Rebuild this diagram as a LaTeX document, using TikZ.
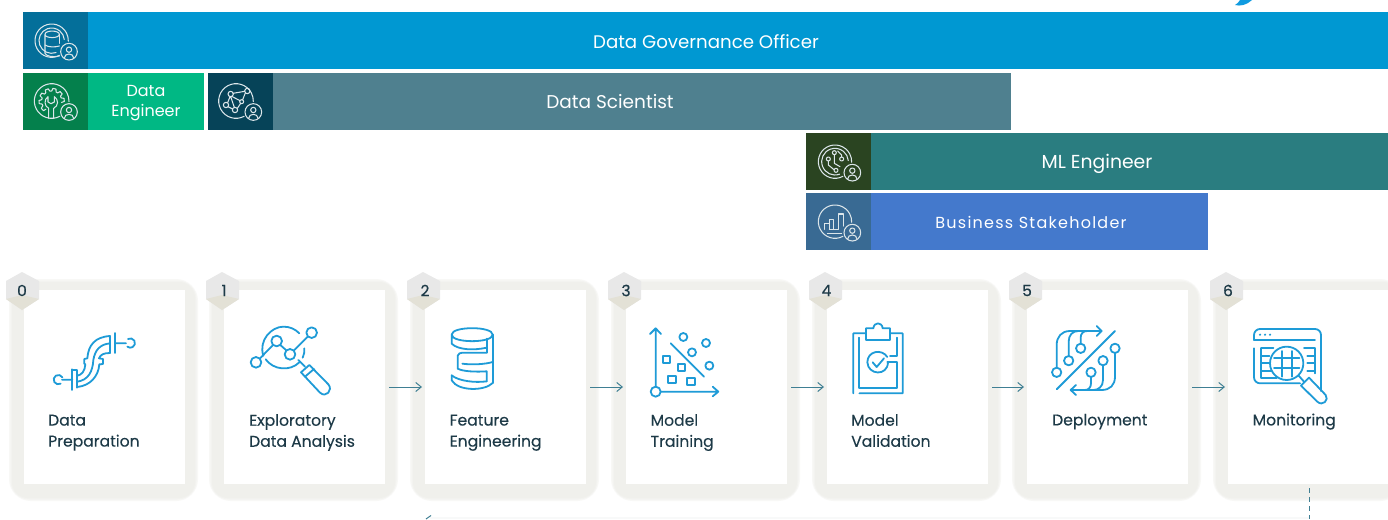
\documentclass[tikz,border=0pt]{standalone}
\usepackage{fontspec}
\setmainfont{Poppins}
\newfontfamily\medfont[FakeBold=0.25]{Poppins}
\newfontfamily\numfont[FakeBold=0.6]{Poppins}
\newfontfamily\spacedfont[LetterSpace=7.8]{Poppins}
\usetikzlibrary{arrows.meta}
\definecolor{govbar}{HTML}{0098D2}\definecolor{govicon}{HTML}{046F9A}
\definecolor{engbar}{HTML}{00B884}\definecolor{engicon}{HTML}{04804C}
\definecolor{sctbar}{HTML}{4F808F}\definecolor{scticon}{HTML}{064358}
\definecolor{mlbar}{HTML}{2A7D80}\definecolor{mlicon}{HTML}{2A4421}
\definecolor{busbar}{HTML}{4479CC}\definecolor{busicon}{HTML}{396A93}
\definecolor{halo}{HTML}{F0F0EC}\definecolor{halomid}{HTML}{F3F3F0}\definecolor{haloout}{HTML}{F8F8F6}
\definecolor{hextop}{HTML}{E8E8E8}\definecolor{hexlow}{HTML}{E3E1D6}
\definecolor{ink}{HTML}{1D3A47}\definecolor{iconblue}{HTML}{1E9BD7}
\definecolor{flow}{HTML}{3F7F93}\definecolor{glyphw}{HTML}{DCE6EA}
\definecolor{fragblue}{HTML}{0F9BE0}\definecolor{faintband}{HTML}{F8F9F9}
\tikzset{
  x=1pt,y=-1pt,
  barbox/.style={anchor=north west,minimum height=57pt,inner sep=0pt,outer sep=0pt},
  barlabel/.style={text=white,font=\fontsize{18.3}{21}\selectfont,anchor=base,inner sep=0pt},
  steptext/.style={text=ink,font=\medfont\fontsize{15.6}{21}\selectfont,align=left,anchor=north west,inner sep=0pt,execute at begin node={\strut}},
  cardbox/.style={fill=white,anchor=north west,minimum width=161pt,minimum height=194pt,inner sep=0pt,outer sep=0pt},
  numtext/.style={text=ink,font=\numfont\fontsize{15.5}{17}\selectfont,inner sep=0pt},
  flowline/.style={draw=flow,line width=1pt,-{Straight Barb[length=5.5pt,width=9pt]},shorten >=3pt,shorten <=4pt,yshift=0.7pt},
  zoomed/.style={x=0.33333pt,y=-0.33333pt},
  iconline/.style={draw=iconblue,line width=1.8pt,line cap=round,line join=round,fill=none},
  glyph/.style={draw=glyphw,line width=1.05pt,line cap=round,line join=round,fill=none},
}
\newcommand{\backing}[1]{%
  \fill[haloout,rounded corners=22pt] (#1-15,279) rectangle ++(189,222);
  \fill[halomid,rounded corners=19pt] (#1-13.5,280.5) rectangle ++(186,219);
  \fill[halo,rounded corners=16pt] (#1-12,282) rectangle ++(183,216);
}
\newcommand{\hexbadge}[1]{%
  \fill[hextop] (#1-2,272) -- (#1+15,281) -- (#1+15,299) -- (#1-2,310) -- (#1-18,299) -- (#1-18,281) -- cycle;
  \fill[hexlow] (#1-18,299) -- (#1-2,295) -- (#1+15,299) -- (#1-2,310) -- cycle;
}
\newcommand{\roleglyph}[4]{% cx cy r person-offset
  \draw[glyph] (#1,#2) ++(62:#3) arc[start angle=62,end angle=362,radius=#3];
  \draw[glyph] (#1+#4,#2+33) circle[radius=25];
  \draw[glyph] (#1+#4,#2+27) circle[radius=8];
  \draw[glyph] (#1+#4-14,#2+52) .. controls (#1+#4-14,#2+36) and (#1+#4+14,#2+36) .. (#1+#4+14,#2+52);
}
\begin{document}
\begin{tikzpicture}
\clip (0,0) rectangle (1388,519);
\fill[white] (0,0) rectangle (1388,519);
% cropped fragment at the top
\fill[fragblue] (1235,5) .. controls (1240,6.5) and (1247,5) .. (1252,0) -- (1240,0) .. controls (1239,2) and (1237,4) .. (1235,5) -- cycle;
% faint band at the bottom
\fill[faintband] (430,517) rectangle (1309,519);
% bars
\node[barbox,fill=govbar,minimum width=1300pt] (govbar) at (88,12) {};
\node[barbox,fill=govicon,minimum width=65pt] (govicon) at (23,12) {};
\node[barbox,fill=engbar,minimum width=116pt] (engbar) at (88,73) {};
\node[barbox,fill=engicon,minimum width=65pt] (engicon) at (23,73) {};
\node[barbox,fill=sctbar,minimum width=738pt] (sctbar) at (273,73) {};
\node[barbox,fill=scticon,minimum width=65pt] (scticon) at (208,73) {};
\node[barbox,fill=mlbar,minimum width=517pt] (mlbar) at (871,133) {};
\node[barbox,fill=mlicon,minimum width=65pt] (mlicon) at (806,133) {};
\node[barbox,fill=busbar,minimum width=337pt] (busbar) at (871,193) {};
\node[barbox,fill=busicon,minimum width=65pt] (busicon) at (806,193) {};
\node[barlabel,font=\fontsize{18.2}{21}\selectfont] (govtext) at (706,48.5) {Data Governance Officer};
\node[text=white,font=\fontsize{16}{20}\selectfont,align=center,inner sep=0pt] (engtext) at (146,103) {Data\\Engineer};
\node[barlabel,font=\fontsize{18.5}{21}\selectfont] (scttext) at (610,108) {Data Scientist};
\node[barlabel,font=\fontsize{18.8}{21}\selectfont] (mltext) at (1097,168) {ML Engineer};
\node[barlabel,font=\spacedfont\fontsize{16}{21}\selectfont] (bustext) at (1031,228) {Business Stakeholder};
% role glyphs
\begin{scope}[zoomed]
  % governance
  \roleglyph{155}{122}{50}{52}
  \draw[glyph] (155,122) ++(70:38) arc[start angle=70,end angle=355,radius=38];
  \draw[glyph] (135,103) .. controls (135,90) and (178,90) .. (178,103) .. controls (178,116) and (135,116) .. (135,103) -- (135,160) .. controls (140,170) and (160,172) .. (178,168);
  \draw[glyph] (178,103) -- (178,130);
  \draw[glyph] (135,135) .. controls (145,142) and (165,142) .. (178,138);
  % engineer
  \roleglyph{155}{303}{52}{52}
  \begin{scope}[shift={(155,303)}]
    \draw[glyph] (125:30) -- (130:38) -- (145:38) -- (152:30) -- (162:30) -- (168:38) -- (182:38) -- (188:30) -- (198:30) -- (204:38) -- (218:38) -- (224:30) -- (234:30) -- (240:38) -- (254:38) -- (260:30) -- (270:30) -- (276:38) -- (290:38) -- (296:30) -- (306:30) -- (312:38) -- (326:38) -- (332:30) -- (342:30) -- (348:38) -- (362:38) -- (368:30);
  \end{scope}
  \draw[glyph] (146,355) -- (146,325) .. controls (132,318) and (132,298) .. (144,290) -- (144,306) -- (153,311) -- (163,306) -- (163,290) .. controls (176,298) and (176,318) .. (161,325) -- (161,355);
  % scientist
  \roleglyph{708}{303}{52}{52}
  \draw[glyph] (678,315) circle[radius=8] (692,282) circle[radius=8] (742,273) circle[radius=8] (705,330) circle[radius=8] (725,305) circle[radius=6];
  \draw[glyph] (683,308) -- (690,290) (699,280) -- (734,274) (695,289) -- (720,302) (684,320) -- (698,327) (712,325) -- (722,310) (736,279) -- (728,299) (692,290) -- (703,322);
  % ml
  \begin{scope}[xshift=790pt,yshift=-130pt]
  \roleglyph{135}{95}{50}{52}
  \draw[glyph] (135,95) ++(70:40) arc[start angle=70,end angle=355,radius=40];
  \draw[glyph] (115,87) circle[radius=6] (133,68) circle[radius=6] (155,87) circle[radius=6] (138,121) circle[radius=6];
  \draw[glyph] (115,93) -- (115,105) -- (132,119) (133,74) -- (133,100) -- (150,110) (143,63) -- (155,75) -- (155,81);
  % business
  \roleglyph{135}{275}{50}{52}
  \draw[glyph] (103,298) -- (103,280) -- (118,280) -- (118,298) (118,298) -- (130,298) -- (130,268) -- (118,268) -- (118,280) (130,298) -- (146,298) -- (146,252) -- (161,252) -- (161,288);
  \draw[glyph] (112,310) -- (155,310);
  \end{scope}
\end{scope}
% cards
\foreach \l in {24,224,425,626,827,1027,1228} {\backing{\l}}
\node[cardbox] (card0) at (24,290) {};
\node[cardbox] (card1) at (224,290) {};
\node[cardbox] (card2) at (425,290) {};
\node[cardbox] (card3) at (626,290) {};
\node[cardbox] (card4) at (827,290) {};
\node[cardbox] (card5) at (1027,290) {};
\node[cardbox] (card6) at (1228,290) {};
\foreach \l in {24,224,425,626,827,1027,1228} {\hexbadge{\l}}
\node[numtext] (num0) at (22,290.5) {0};
\node[numtext] (num1) at (224,290.5) {1};
\node[numtext] (num2) at (425,290.5) {2};
\node[numtext] (num3) at (626,290.5) {3};
\node[numtext] (num4) at (826.5,290.5) {4};
\node[numtext] (num5) at (1027,290.5) {5};
\node[numtext] (num6) at (1228,290.5) {6};
\node[steptext] (txt0) at (48,414.5) {Data\\Preparation};
\node[steptext] (txt1) at (249,414) {Exploratory\\Data Analysis};
\node[steptext] (txt2) at (449.5,414.5) {Feature\\Engineering};
\node[steptext] (txt3) at (650.5,414) {Model\\Training};
\node[steptext] (txt4) at (851,414) {Model\\Validation};
\node[steptext] (txt5) at (1052,410.5) {Deployment};
\node[steptext] (txt6) at (1252.5,410.5) {Monitoring};
% connectors
\draw[flowline] (card1) -- (card2);
\draw[flowline] (card2) -- (card3);
\draw[flowline] (card3) -- (card4);
\draw[flowline] (card4) -- (card5);
\draw[flowline] (card5) -- (card6);
\coordinate (loopdown) at (1309,519);
\coordinate (loopfrom) at (1309,488);
\draw[flow,line width=1pt,dash pattern=on 5pt off 4pt] (loopfrom) -- (loopdown);
\draw[flow,line width=1pt] (426,519) -- (431,515.5);
% step icons
\begin{scope}[zoomed,yshift=-265pt]
  % 0 pipe
  \draw[iconline] (182,356) arc[start angle=60,end angle=330,radius=14] (186,344) -- (217,344);
  \draw[iconline] (217,313) -- (217,375);
  \draw[iconline] (217,315) -- (232,315) -- (232,368);
  \draw[iconline] (232,332) .. controls (245,330) and (255,318) .. (256,298) -- (253,296) -- (253,282) -- (262,280) .. controls (265,240) and (285,216) .. (330,213);
  \draw[iconline] (232,350) .. controls (265,345) and (278,320) .. (280,285) .. controls (285,255) and (300,238) .. (330,235);
  \draw[iconline] (232,366) .. controls (270,362) and (295,335) .. (298,298) -- (309,297) -- (309,282) -- (297,280) .. controls (302,268) and (312,264) .. (330,264);
  \draw[iconline] (330,213) -- (330,264);
  \draw[iconline] (345,204) -- (345,264);
  \draw[iconline] (345,235) -- (378,235) (384,222) arc[start angle=240,end angle=490,radius=14];
  % 1 exploratory
  \draw[iconline] (768,292) circle[radius=16] (830,228) circle[radius=16] (870,268) circle[radius=16] (935,203) circle[radius=16];
  \draw[iconline] (780,280) -- (819,240) (841,240) -- (859,256) (882,256) -- (923,215);
  \draw[iconline] (790,272) .. controls (775,225) and (815,185) .. (850,185) .. controls (870,185) and (885,192) .. (898,205);
  \draw[iconline] (797,283) .. controls (820,315) and (870,320) .. (898,292) (908,278) .. controls (912,270) and (914,260) .. (913,250);
  \draw[iconline] (895,285) -- (915,305);
  \draw[iconline] (903,322) -- (928,300) -- (985,358) .. controls (1000,375) and (978,400) .. (960,383) -- cycle;
  \draw[iconline] (915,335) -- (942,312);
\end{scope}
\begin{scope}[zoomed,xshift=400pt,yshift=-265pt]
  % 2 feature
  \draw[iconline] (155,209) .. controls (155,183) and (278,183) .. (278,209) .. controls (278,235) and (155,235) .. (155,209) -- (155,236) .. controls (175,256) and (225,256) .. (260,248);
  \draw[iconline] (260,221) -- (260,263);
  \draw[iconline] (278,209) -- (278,354);
  \draw[iconline] (260,263) -- (195,263) .. controls (180,263) and (173,266) .. (173,272) -- (173,311) .. controls (190,320) and (230,321) .. (260,319) -- (260,349);
  \draw[iconline] (187,296) .. controls (215,300) and (255,298) .. (278,291);
  \draw[iconline] (155,331) -- (155,346) .. controls (175,380) and (255,378) .. (278,354);
  \draw[iconline] (155,331) .. controls (175,348) and (225,354) .. (260,349);
  % 3 training
  \draw[iconline] (767,365) -- (767,190) (750,207) -- (767,190) -- (783,207);
  \draw[iconline] (767,380) circle[radius=15];
  \draw[iconline] (782,380) -- (955,380) (938,365) -- (955,380) -- (938,394);
  \draw[iconline] (850,216) circle[radius=12] (918,234) circle[radius=12] (876,262) circle[radius=12] (928,302) circle[radius=12];
  \draw[iconline] (812,235) -- (912,335);
  \foreach \sx/\sy in {799/284,844/308,816/344,873/349} {\draw[iconline] (\sx-11,\sy-11) rectangle (\sx+11,\sy+11);}
\end{scope}
\begin{scope}[zoomed,xshift=800pt,yshift=-265pt]
  % 4 validation
  \draw[iconline] (160,385) -- (160,205) -- (198,205) -- (198,190) -- (220,190) .. controls (222,170) and (246,170) .. (248,190) -- (270,190) -- (270,205) -- (308,205) -- (308,385) -- (178,385);
  \draw[iconline] (198,205) -- (198,226) -- (270,226) -- (270,205);
  \draw[iconline] (178,218) -- (178,368) -- (292,368) -- (292,292) -- (262,292);
  \draw[iconline] (292,218) -- (292,272) -- (270,272);
  \draw[iconline] (264,292) .. controls (262,335) and (204,330) .. (202,292) .. controls (202,258) and (245,250) .. (262,276);
  \draw[iconline] (218,292) -- (230,306) -- (252,280);
  % 5 deployment
  \draw[iconline] (770,373) -- (945,198);
  \draw[iconline] (770,322) circle[radius=14] (806,287) circle[radius=14] (842,250) circle[radius=14] (945,250) circle[radius=14] (909,287) circle[radius=14] (873,322) circle[radius=14];
  \draw[iconline] (770,308) -- (770,240) .. controls (770,215) and (785,198) .. (810,198) -- (905,198) (890,183) -- (905,198) -- (890,213);
  \draw[iconline] (806,273) -- (806,230) .. controls (806,210) and (818,198) .. (835,198);
  \draw[iconline] (842,236) -- (842,218) .. controls (842,205) and (850,198) .. (862,198);
  \draw[iconline] (945,264) -- (945,335) .. controls (945,360) and (930,375) .. (905,375) -- (812,375) (828,360) -- (812,375) -- (828,390);
  \draw[iconline] (909,301) -- (909,345) .. controls (909,365) and (895,375) .. (880,375);
  \draw[iconline] (873,336) -- (873,355) .. controls (873,368) and (865,375) .. (855,375);
\end{scope}
\begin{scope}[zoomed,xshift=1180pt,yshift=-265pt]
  % 6 monitoring
  \draw[iconline,rounded corners=6pt] (222,225) -- (222,192) -- (423,192) -- (423,378);
  \draw[iconline] (222,225) -- (405,225);
  \fill[iconblue] (240,209) circle[radius=3.5] (255,209) circle[radius=3.5] (270,209) circle[radius=3.5];
  \draw[iconline,rounded corners=6pt] (222,250) -- (222,355) -- (360,355);
  \draw[iconline] (243,250) -- (243,340) -- (290,340) (243,250) -- (280,250) (243,272) -- (268,272) (243,294) -- (268,294) (243,318) -- (275,318);
  \draw[iconline] (405,250) -- (405,325) (372,250) -- (405,250) (382,272) -- (405,272) (382,294) -- (405,294) (382,318) -- (405,318);
  \draw[iconline] (320,295) circle[radius=50];
  \draw[iconline] (305,258) -- (305,335) (335,258) -- (335,335) (282,280) -- (358,280) (282,310) -- (358,310);
  \draw[iconline] (356,332) -- (372,350);
  \draw[iconline] (363,362) -- (387,338) -- (437,390) .. controls (448,405) and (428,425) .. (412,410) -- cycle;
\end{scope}
\end{tikzpicture}
\end{document}
